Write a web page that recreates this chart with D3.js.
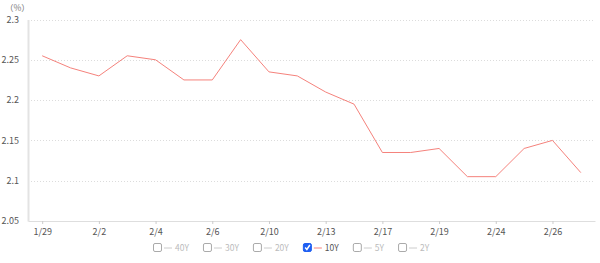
<!DOCTYPE html>
<html>
<head>
<meta charset="utf-8">
<script src="https://cdn.jsdelivr.net/npm/d3@7"></script>
<style>
  body { margin: 0; background: #fff; }
  text { font-family: "Noto Sans CJK JP", "Noto Sans", sans-serif; }
</style>
</head>
<body>
<div id="chart"></div>
<script>
// data
let dates = ["1/29", "1/30", "2/2", "2/3", "2/4", "2/5", "2/6", "2/7", "2/10", "2/12",
    "2/13", "2/14", "2/17", "2/18", "2/19", "2/21", "2/24", "2/25", "2/26", "2/27"];
let yield10 = [2.255, 2.24, 2.23, 2.255, 2.25, 2.225, 2.225, 2.275, 2.235, 2.23,
    2.21, 2.195, 2.135, 2.135, 2.14, 2.105, 2.105, 2.14, 2.15, 2.11];
let yTicks = [2.05, 2.1, 2.15, 2.2, 2.25, 2.3];
let legendNames = ["40Y", "30Y", "20Y", "10Y", "5Y", "2Y"];
let activeSeries = "10Y";

let w = 600, h = 263;
let plotLeft = 28, plotRight = 595, plotTop = 19.5, plotBottom = 221;
let lineColor = "#f5827c";

let svg = d3.select("#chart")
    .append("svg")
    .attr("width", w)
    .attr("height", h);

let x = d3.scalePoint()
    .domain(dates)
    .range([plotLeft, plotRight])
    .padding(0.5);

let y = d3.scaleLinear()
    .domain([2.05, 2.3])
    .range([plotBottom, plotTop]);

// dotted gridlines
svg.append("g")
    .selectAll("line")
    .data(yTicks.slice(1))
    .enter()
    .append("line")
    .attr("x1", plotLeft)
    .attr("x2", plotRight)
    .attr("y1", d => Math.round(y(d)) + 0.5)
    .attr("y2", d => Math.round(y(d)) + 0.5)
    .attr("stroke", "#dcdcdc")
    .attr("stroke-dasharray", "1,2");

// y axis
let yAxis = svg.append("g")
    .attr("transform", `translate(${plotLeft},0)`)
    .call(d3.axisLeft(y).tickValues(yTicks).tickSize(0).tickPadding(9).tickFormat(d3.format("")));
yAxis.select(".domain").attr("stroke", "#e3e3e3").attr("stroke-width", 2);
yAxis.selectAll("text").attr("fill", "#555").attr("font-size", 9);

svg.append("text")
    .attr("x", 5)
    .attr("y", 11)
    .attr("fill", "#777")
    .attr("font-size", 8.5)
    .text("（%）");

// x axis
let xAxis = svg.append("g")
    .attr("transform", `translate(0,${plotBottom})`)
    .call(d3.axisBottom(x)
        .tickValues(dates.filter((d, i) => i % 2 == 0))
        .tickSize(3).tickSizeOuter(0).tickPadding(5));
xAxis.select(".domain").attr("stroke", "#dedede");
xAxis.selectAll(".tick line").attr("stroke", "#ccc");
xAxis.selectAll("text").attr("fill", "#555").attr("font-size", 9);

// the line
let line = d3.line()
    .x((d, i) => x(dates[i]))
    .y(d => y(d));

svg.append("path")
    .datum(yield10)
    .attr("d", line)
    .attr("fill", "none")
    .attr("stroke", lineColor)
    .attr("stroke-width", 1);

// legend
let legend = svg.append("g").attr("transform", "translate(153,248)");
let lx = 0;
legendNames.forEach(name => {
    let on = name == activeSeries;
    let g = legend.append("g").attr("transform", `translate(${lx},0)`);
    g.append("rect")
        .attr("x", 0.5)
        .attr("y", -4.5)
        .attr("width", 8)
        .attr("height", 8)
        .attr("rx", 1.5)
        .attr("fill", on ? "#1f5ff2" : "#fff")
        .attr("stroke", on ? "#1f5ff2" : "#aaa");
    if (on) {
        g.append("path")
            .attr("d", "M2.3,-0.5 L4,1.5 L7,-3")
            .attr("fill", "none")
            .attr("stroke", "#fff")
            .attr("stroke-width", 1.5);
    }
    g.append("line")
        .attr("x1", 11)
        .attr("x2", 19)
        .attr("y1", 0)
        .attr("y2", 0)
        .attr("stroke", on ? lineColor : "#ccc");
    let t = g.append("text")
        .attr("x", 22)
        .attr("y", 3)
        .attr("font-size", 8.5)
        .attr("fill", on ? "#555" : "#bbb")
        .text(name);
    lx += 22 + t.node().getComputedTextLength() + 14;
});
</script>
</body>
</html>
